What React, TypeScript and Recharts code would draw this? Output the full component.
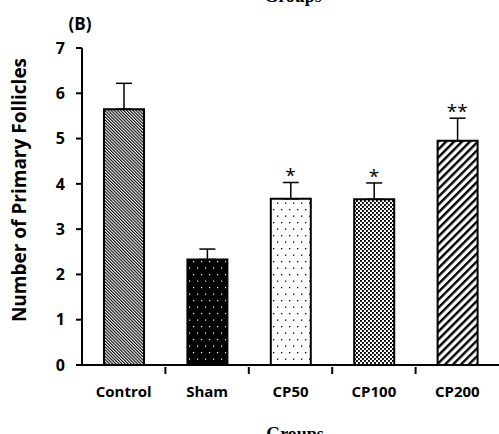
import { ComposedChart, Bar, Line, XAxis, YAxis, ErrorBar, Cell, LabelList } from 'recharts';

const groups = ['Control', 'Sham', 'CP50', 'CP100', 'CP200'];
const means = [5.65, 2.33, 3.67, 3.66, 4.95];
const sems = [0.57, 0.23, 0.36, 0.36, 0.5];
const stars = ['', '', '*', '*', '**'];
const yTicks = [0, 1, 2, 3, 4, 5, 6, 7];
const fills = ['url(#pControl)', 'url(#pSham)', 'url(#pCP50)', 'url(#pCP100)', 'url(#pCP200)'];

const data = groups.map((g, i) => ({
  group: g,
  mean: means[i],
  err: [0, sems[i]],
  top: means[i] + sems[i],
  star: stars[i],
}));

const sans = '"Open Sans", sans-serif';
const serif = '"Liberation Serif", serif';

function Patterns() {
  return (
    <svg width="0" height="0" style={{ position: 'absolute' }}>
      <defs>
        <pattern id="pControl" width="2.2" height="2.2" patternUnits="userSpaceOnUse" patternTransform="rotate(-45)">
          <rect width="2.2" height="2.2" fill="#fff" />
          <rect width="1.1" height="2.2" fill="#000" />
        </pattern>
        <pattern id="pSham" width="8" height="13" patternUnits="userSpaceOnUse">
          <rect width="8" height="13" fill="#000" />
          <rect x="1" y="1" width="1.2" height="1.2" fill="#fff" />
          <rect x="5" y="7.5" width="1.2" height="1.2" fill="#fff" />
        </pattern>
        <pattern id="pCP50" width="8" height="13" patternUnits="userSpaceOnUse">
          <rect width="8" height="13" fill="#fff" />
          <rect x="1" y="1" width="1.3" height="1.3" fill="#000" />
          <rect x="5" y="7.5" width="1.3" height="1.3" fill="#000" />
        </pattern>
        <pattern id="pCP100" width="4" height="4" patternUnits="userSpaceOnUse">
          <rect width="4" height="4" fill="#fff" />
          <rect x="0" y="0" width="1.9" height="1.9" fill="#000" />
          <rect x="2" y="2" width="1.9" height="1.9" fill="#000" />
        </pattern>
        <pattern id="pCP200" width="5.6" height="5.6" patternUnits="userSpaceOnUse" patternTransform="rotate(45)">
          <rect width="5.6" height="5.6" fill="#fff" />
          <rect width="2.4" height="5.6" fill="#000" />
        </pattern>
      </defs>
    </svg>
  );
}

function GroupTick(props: any) {
  const { x, y, payload, index, width, visibleTicksCount } = props;
  const n = visibleTicksCount || groups.length;
  const half = width ? width / n / 2 : 41.7;
  return (
    <g>
      <text x={x} y={y + 24} textAnchor="middle" fontFamily={sans} fontWeight={700} fontSize={15} fill="#000">
        {payload.value}
      </text>
      {index < groups.length - 1 && (
        <line x1={x + half} x2={x + half} y1={y - 6} y2={y + 1} stroke="#000" strokeWidth={2} />
      )}
    </g>
  );
}

export default function App() {
  return (
    <div style={{ position: 'absolute', left: 0, top: 0, width: 499, height: 434, background: '#fff', overflow: 'hidden' }}>
      <Patterns />
      <ComposedChart width={499} height={434} data={data} margin={{ top: 48, right: 0, left: 0, bottom: 0 }}>
        <XAxis
          dataKey="group"
          height={69}
          axisLine={{ stroke: '#000', strokeWidth: 2 }}
          tickLine={false}
          tick={<GroupTick />}
          interval={0}
        />
        <YAxis
          width={82}
          domain={[0, 7]}
          ticks={yTicks}
          interval={0}
          axisLine={{ stroke: '#000', strokeWidth: 2 }}
          tickLine={{ stroke: '#000', strokeWidth: 2 }}
          tickSize={6}
          tickMargin={11}
          tick={{ fill: '#000', fontSize: 16, fontWeight: 700, fontFamily: sans }}
        />
        <Bar dataKey="mean" barSize={40} stroke="#000" strokeWidth={2} isAnimationActive={false}>
          {data.map((d, i) => (
            <Cell key={d.group} fill={fills[i]} />
          ))}
          <ErrorBar dataKey="err" direction="y" width={8} stroke="#000" strokeWidth={1.5} isAnimationActive={false} />
        </Bar>
        <Line dataKey="top" stroke="none" dot={false} activeDot={false} isAnimationActive={false} legendType="none">
          <LabelList dataKey="star" position="top" offset={0} fill="#000" fontSize={19} fontFamily={sans} />
        </Line>
      </ComposedChart>
      <svg width={499} height={434} style={{ position: 'absolute', left: 0, top: 0, pointerEvents: 'none' }}>
        <text x={293} y={2} textAnchor="middle" fontFamily={serif} fontWeight={700} fontSize={18} fill="#000">Groups</text>
        <text x={80} y={30} textAnchor="middle" fontFamily={sans} fontWeight={700} fontSize={17} fill="#000">(B)</text>
        <text
          x={19}
          y={190}
          textAnchor="middle"
          transform="rotate(-90 19 190)"
          dominantBaseline="central"
          fontFamily={sans}
          fontWeight={700}
          fontSize={19}
          fill="#000"
        >
          Number of Primary Follicles
        </text>
        <text x={295} y={440} textAnchor="middle" fontFamily={serif} fontWeight={700} fontSize={18} fill="#000">Groups</text>
      </svg>
    </div>
  );
}
